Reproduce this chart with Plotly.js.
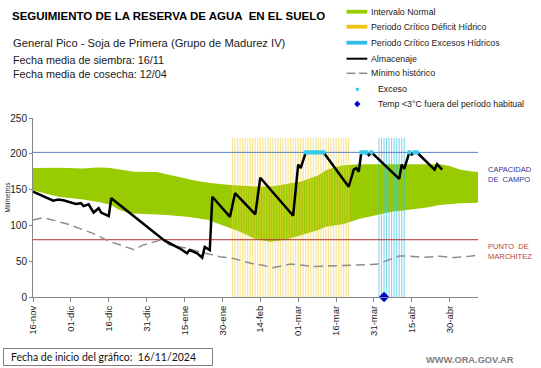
<!DOCTYPE html>
<html>
<head>
<meta charset="utf-8">
<script src="https://cdn.plot.ly/plotly-3.0.1.min.js"></script>
<style>html,body{margin:0;padding:0;background:#fff}</style>
</head>
<body>
<div id="chart" style="width:541px;height:368px"></div>
<script>
// ---- data (days counted from 16/11/2024) ----
const tickDays = [0, 15, 30, 45, 60, 75, 90, 105, 120, 135, 150, 165];
const tickLabels = ['16-nov', '01-dic', '16-dic', '31-dic', '15-ene', '30-ene', '14-feb', '01-mar', '16-mar', '31-mar', '15-abr', '30-abr'];

const normalUpperDays = [0, 10, 20, 25, 30, 36, 40, 49, 52, 58, 65, 71, 78, 90, 96, 103, 106, 113, 116, 119, 123, 129, 136, 149, 161, 165, 169, 173, 176.2];
const normalUpperVals = [180, 180.5, 179.5, 181, 180.5, 177, 175, 174.5, 172, 168, 162, 159, 156.5, 154, 155, 159.5, 161, 170, 177, 181, 184, 185.5, 185.5, 185.5, 185.5, 183, 178, 175.5, 174.5];

const normalLowerDays = [0, 10, 20, 27, 31, 34, 38, 42, 53, 61, 65, 69, 72, 78, 82, 88, 94, 100, 103, 106, 113, 116, 123, 129, 135, 142, 148, 156, 161, 169, 176.2];
const normalLowerVals = [149, 140, 136, 132, 128.5, 122, 117, 116.5, 114.5, 112, 110, 108, 104, 96, 91, 81, 77, 80, 83, 85.5, 93.5, 98, 102, 109, 114, 119, 121.5, 125, 128.5, 131, 131.5];

const almDays = [0, 8, 10, 12, 17, 19, 20, 22, 24, 26, 27, 30, 31, 38, 52, 58, 61, 62, 65, 67, 68, 70, 71, 78, 80, 88, 90, 103, 105, 106, 108, 115, 125, 127, 128, 129, 130, 132, 133, 134, 145, 146, 147, 149, 150, 151, 152, 159, 160, 162];
const almVals = [147, 134.5, 136, 135, 130, 131, 127, 129.5, 118, 124, 118, 113, 138, 118, 79, 68, 61, 65.5, 61, 55, 70, 65.5, 140, 112, 145, 115.5, 166.5, 113.5, 185, 180, 202, 202, 154, 178, 180, 175, 202, 202, 198, 202, 165, 185, 179, 202, 199, 202, 202, 178, 185.5, 178];

const minDays = [0, 3, 5, 14, 24, 30, 40, 43.5, 51.5, 54, 61, 66, 74, 79, 88, 90.5, 95, 102, 111.5, 122.5, 136, 140, 145, 149, 155.5, 161, 167, 173, 176.2];
const minVals = [107.5, 110, 110, 101.5, 88.5, 78, 66, 72.5, 80.5, 72.5, 68, 63, 56.3, 54, 45.6, 44.7, 41, 46, 42.5, 44, 45.6, 50.7, 57.3, 57, 55.4, 57, 55, 57, 58.5];

const excesoDays = [108, 109, 110, 111, 112, 113, 114, 115, 130, 131, 132, 134, 149, 151, 152];
const excesoVals = [202, 202, 202, 202, 202, 202, 202, 202, 202, 202, 202, 202, 202, 202, 202];

const deficitDays = [79, 80, 81, 82, 83, 84, 85, 86, 87, 88, 89, 90, 91, 92, 93, 94, 95, 96, 97, 98, 99, 100, 101, 102, 103, 104, 105, 106, 107, 108, 109, 110, 111, 112, 113, 114, 115, 116, 117, 118, 119, 120, 121, 122, 123, 124, 125];
const excesosPeriodDays = [137, 138, 139, 140, 141, 142, 143, 144, 145, 146, 147];
const periodTop = 222;

const tempDays = [139];
const tempVals = [0];

const capacidadCampo = 202;
const puntoMarchitez = 80;
const xRange = [0, 176.2];
const yRange = [0, 250];

// ---- layout helpers (pixel -> paper) ----
const L = 33, T = 118, PW = 445, PH = 179;
const fx = p => (p - L) / PW;
const fy = p => (T + PH - p) / PH;

const traces = [
  { x: normalLowerDays, y: normalLowerVals, type: 'scatter', mode: 'lines',
    line: { width: 0, color: 'rgba(0,0,0,0)' }, hoverinfo: 'skip', showlegend: false },
  { x: normalUpperDays, y: normalUpperVals, type: 'scatter', mode: 'lines', fill: 'tonexty',
    fillcolor: '#99cc00', line: { width: 0, color: 'rgba(0,0,0,0)' }, showlegend: false },

  { x: deficitDays, y: deficitDays.map(() => periodTop), type: 'bar', xaxis: 'x2', yaxis: 'y2',
    width: 0.5, marker: { color: 'rgba(242,210,70,0.55)', line: { width: 0 } }, showlegend: false },
  { x: excesosPeriodDays, y: excesosPeriodDays.map(() => periodTop), type: 'bar', xaxis: 'x2', yaxis: 'y2',
    width: 0.42, marker: { color: 'rgba(50,190,225,0.65)', line: { width: 0 } }, showlegend: false },

  { x: xRange, y: [capacidadCampo, capacidadCampo], type: 'scatter', mode: 'lines', xaxis: 'x2', yaxis: 'y2',
    line: { color: '#5b80c4', width: 1 }, showlegend: false },
  { x: xRange, y: [puntoMarchitez, puntoMarchitez], type: 'scatter', mode: 'lines', xaxis: 'x2', yaxis: 'y2',
    line: { color: '#b03030', width: 1 }, showlegend: false },

  { x: minDays, y: minVals, type: 'scatter', mode: 'lines', xaxis: 'x2', yaxis: 'y2',
    line: { color: '#8c8c8c', width: 1.5, dash: '9px,5px' }, showlegend: false },
  { x: almDays, y: almVals, type: 'scatter', mode: 'lines', xaxis: 'x2', yaxis: 'y2',
    line: { color: '#000000', width: 2.5 }, showlegend: false },
  { x: excesoDays, y: excesoVals, type: 'scatter', mode: 'markers', xaxis: 'x2', yaxis: 'y2',
    marker: { symbol: 'square', size: 4, color: '#33ccee', line: { width: 0 } }, showlegend: false },
  { x: tempDays, y: tempVals, type: 'scatter', mode: 'markers', xaxis: 'x2', yaxis: 'y2', cliponaxis: false,
    marker: { symbol: 'diamond', size: 8, color: '#0000cc', line: { width: 0 } }, showlegend: false }
];

const FONT = 'Arial, Liberation Sans, sans-serif';
const txt = (text, x, y, size, opts = {}) => Object.assign({
  text, x: fx(x), y: fy(y), xref: 'paper', yref: 'paper', showarrow: false,
  xanchor: 'left', yanchor: 'middle', font: { family: FONT, size, color: '#1a1a1a' }
}, opts);

const annotations = [
  txt('<b>SEGUIMIENTO DE LA RESERVA DE AGUA  EN EL SUELO</b>', 10, 15.5, 11.5, { font: { family: FONT, size: 11.5, color: '#000' } }),
  txt('General Pico - Soja de Primera (Grupo de Madurez IV)', 11, 43, 11.2),
  txt('Fecha media de siembra: 16/11<br>Fecha media de cosecha: 12/04', 11, 67, 10.8, { align: 'left' }),

  txt('Intervalo Normal', 368.5, 11.7, 8.8),
  txt('Periodo Crítico Déficit Hídrico', 368.5, 26.7, 8.8),
  txt('Periodo Crítico Excesos Hídricos', 368.5, 42.7, 8.8),
  txt('Almacenaje', 368.5, 58.7, 8.8),
  txt('Mínimo histórico', 368.5, 73.3, 8.8),
  txt('Exceso', 375.5, 89.3, 8.8),
  txt('Temp <3°C fuera del período habitual', 375.5, 104, 8.8),

  txt('CAPACIDAD<br>DE  CAMPO', 486, 174.5, 7.5, { align: 'left', font: { family: FONT, size: 7.5, color: '#333399' } }),
  txt('PUNTO  DE<br>MARCHITEZ', 486, 251, 7.5, { align: 'left', font: { family: FONT, size: 7.5, color: '#c03a3a' } }),

  txt('Milímetros', 6.5, 197, 6.5, { xanchor: 'center', textangle: -90 }),

  txt('Fecha de inicio del gráfico:  16/11/2024', 8.5, 357.3, 10.5, { font: { family: 'Lato, sans-serif', size: 10.5, color: '#111' } }),
  txt('<b>WWW.ORA.GOV.AR</b>', 469.7, 360, 9.3, { xanchor: 'center', font: { family: FONT, size: 9.3, color: '#7f7f7f' } })
];

const rect = (x0, x1, y0, y1, color) => ({ type: 'rect', xref: 'paper', yref: 'paper',
  x0: fx(x0), x1: fx(x1), y0: fy(y0), y1: fy(y1), fillcolor: color, line: { width: 0 } });
const hline = (x0, x1, y, color, width) => ({ type: 'line', xref: 'paper', yref: 'paper',
  x0: fx(x0), x1: fx(x1), y0: fy(y), y1: fy(y), line: { color, width } });
const dx = 3.2, dcx = 357.3, dcy = 104;

const shapes = [
  rect(346.5, 367.3, 9.8, 13.6, '#99cc00'),
  rect(346.5, 367.3, 24.8, 28.6, '#f2c314'),
  rect(346.5, 367.3, 40.8, 44.6, '#33bbee'),
  hline(346.5, 367.3, 58.7, '#000', 2),
  hline(346.5, 355.5, 73.3, '#8c8c8c', 1.5),
  hline(359, 367.3, 73.3, '#8c8c8c', 1.5),
  rect(355.8, 358.8, 87.8, 90.8, '#33ccee'),
  { type: 'path', xref: 'paper', yref: 'paper', fillcolor: '#0000cc', line: { width: 0 },
    path: `M ${fx(dcx)} ${fy(dcy - dx)} L ${fx(dcx + dx)} ${fy(dcy)} L ${fx(dcx)} ${fy(dcy + dx)} L ${fx(dcx - dx)} ${fy(dcy)} Z` },
  { type: 'rect', xref: 'paper', yref: 'paper', x0: fx(3.5), x1: fx(212.5), y0: fy(348.5), y1: fy(365.5),
    line: { color: '#8a7878', width: 1 }, fillcolor: 'rgba(0,0,0,0)' }
];

const layout = {
  width: 541, height: 368,
  margin: { l: L, r: 541 - L - PW, t: T, b: 368 - T - PH, pad: 0 },
  paper_bgcolor: '#ffffff', plot_bgcolor: '#ffffff',
  showlegend: false,
  barmode: 'overlay',
  xaxis: {
    range: xRange, tickmode: 'array', tickvals: tickDays, ticktext: tickLabels, tickangle: -90,
    ticks: 'outside', ticklen: 4, tickcolor: '#868686', showline: true, linecolor: '#868686', linewidth: 1,
    showgrid: false, zeroline: false, tickfont: { family: FONT, size: 9.5, color: '#1a1a1a' }, fixedrange: true
  },
  yaxis: {
    range: yRange, tickmode: 'array', tickvals: [0, 50, 100, 150, 200, 250],
    ticks: 'outside', ticklen: 3, tickcolor: '#868686', showline: true, linecolor: '#868686', linewidth: 1,
    showgrid: false, zeroline: false, tickfont: { family: FONT, size: 10, color: '#1a1a1a' },
    fixedrange: true
  },
  xaxis2: { overlaying: 'x', range: xRange, visible: false, fixedrange: true },
  yaxis2: { overlaying: 'y', range: yRange, visible: false, fixedrange: true },
  annotations, shapes
};

Plotly.newPlot('chart', traces, layout, { staticPlot: true, displayModeBar: false });
</script>
</body>
</html>
